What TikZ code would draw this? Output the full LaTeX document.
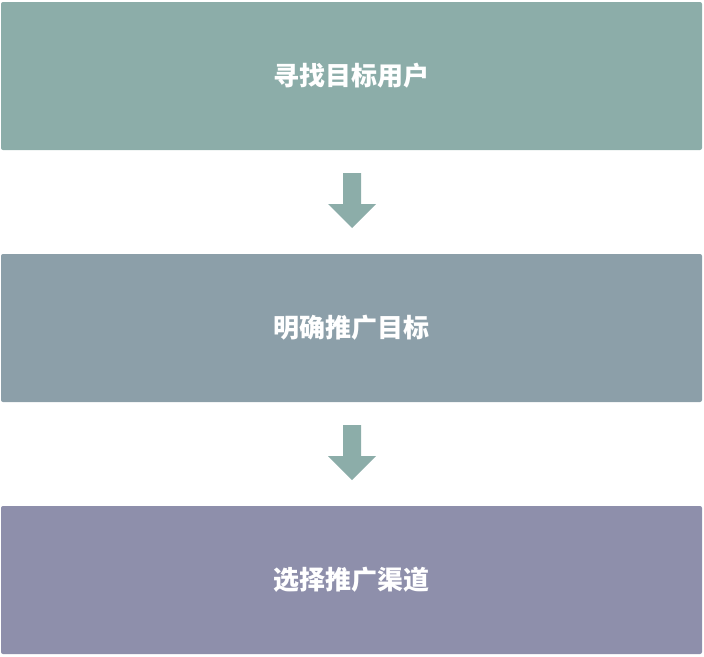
\documentclass[tikz,border=0pt]{standalone}
\usepackage{fontspec}
\newfontfamily\cjk{Noto Sans CJK SC Black}
\definecolor{boxa}{HTML}{8CADA9}
\definecolor{boxb}{HTML}{8C9FA9}
\definecolor{boxc}{HTML}{8E8FAB}
\begin{document}
\begin{tikzpicture}[x=1pt,y=-1pt,
  stepbox/.style={rounded corners=2pt, inner sep=0pt},
  lbl/.style={text=white, font=\cjk\fontsize{26}{30}\selectfont, inner sep=0pt},
  downarrow/.style={fill=boxa}]
\useasboundingbox (0,0) rectangle (704,656);
\fill[stepbox, boxa] (1,2) rectangle (702,150);
\fill[stepbox, boxb] (1,254) rectangle (702,402);
\fill[stepbox, boxc] (1,506) rectangle (702,654);
\node[lbl] (s1) at (351.5,76) {寻找目标用户};
\node[lbl] (s2) at (351.5,328) {明确推广目标};
\node[lbl] (s3) at (351.5,580) {选择推广渠道};
\foreach \y in {0,252}{
  \fill[downarrow] (343,173+\y) -- (361,173+\y) -- (361,204+\y) -- (376,204+\y) -- (352,228+\y) -- (328,204+\y) -- (343,204+\y) -- cycle;
}
\end{tikzpicture}
\end{document}
